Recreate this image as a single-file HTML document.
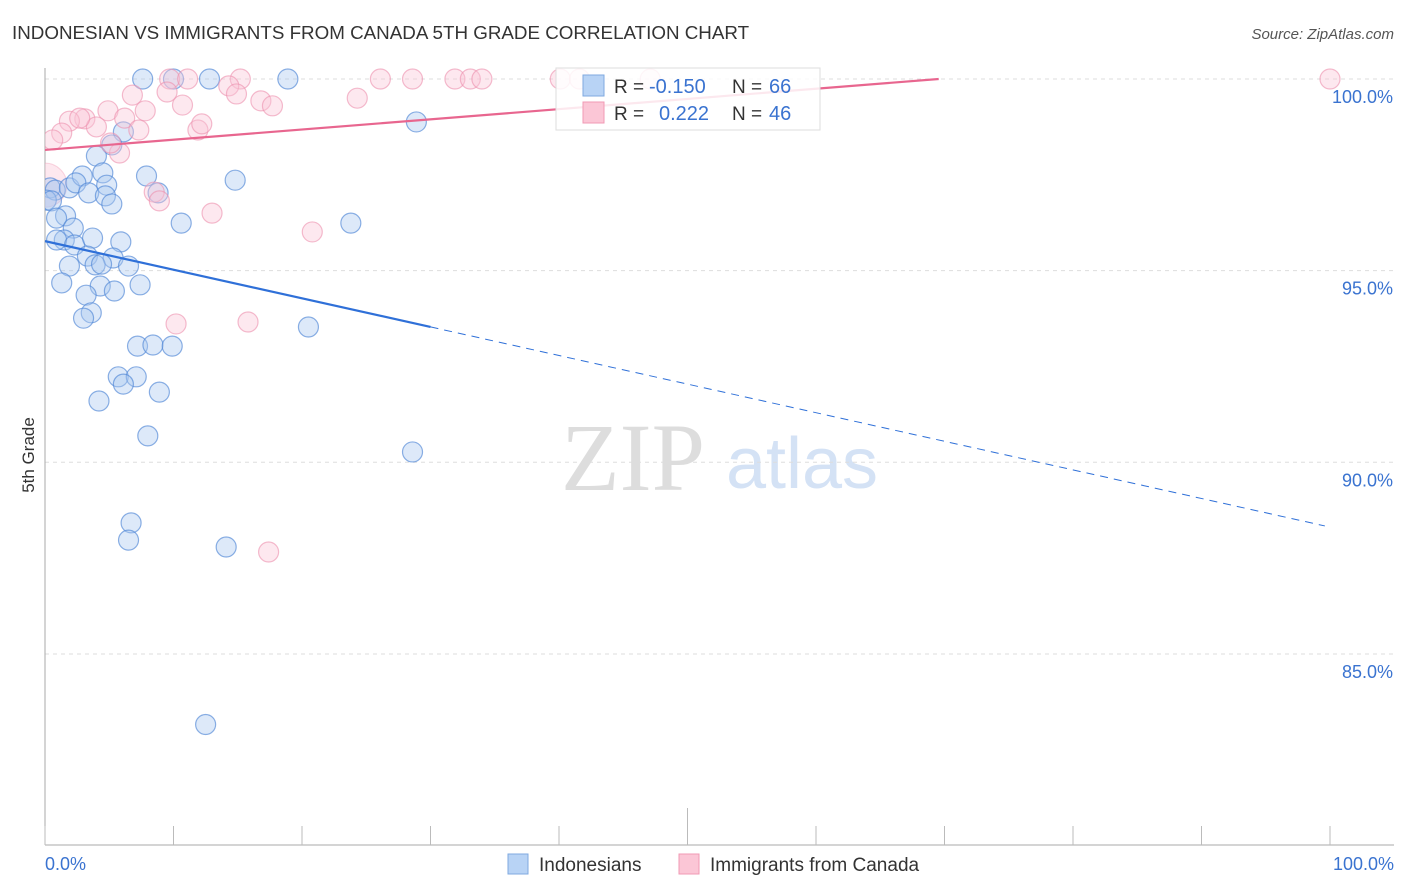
<!DOCTYPE html>
<html><head><meta charset="utf-8"><style>
body{margin:0;background:#fff;font-family:"Liberation Sans",sans-serif;}
svg{display:block}
</style></head><body>
<svg id="chart" width="1406" height="892" xmlns="http://www.w3.org/2000/svg">
<defs><clipPath id="plotclip"><rect x="45" y="40" width="1361" height="805"/></clipPath></defs>
<text x="12" y="39" font-size="18.8" fill="#333">INDONESIAN VS IMMIGRANTS FROM CANADA 5TH GRADE CORRELATION CHART</text>
<text x="1394" y="39" font-size="15" fill="#555" font-style="italic" text-anchor="end">Source: ZipAtlas.com</text>
<text x="34" y="455" font-size="17" fill="#333" text-anchor="middle" transform="rotate(-90 34 455)">5th Grade</text>
<g>
<text x="633" y="490" font-size="96" fill="#ddd" font-family="Liberation Serif,serif" text-anchor="middle">ZIP</text>
<text x="802" y="488" font-size="72" fill="#d4e2f5" text-anchor="middle">atlas</text>
</g>
<g id="grid"></g>
<g id="axes"></g>
<g id="marks" clip-path="url(#plotclip)"></g>
<g id="trends"></g>
<g>
<rect x="556" y="68" width="264" height="62" fill="#fff" fill-opacity="0.85" stroke="#ddd"/>
<rect x="583" y="75" width="21" height="21" fill="#b8d3f5" stroke="#7fa9e0"/>
<rect x="583" y="102" width="21" height="21" fill="#fbc6d6" stroke="#f09ab4"/>
<text x="614" y="93" font-size="19" fill="#333">R =</text>
<text x="649" y="93" font-size="20" fill="#3a73d0">-0.150</text>
<text x="732" y="93" font-size="19" fill="#333">N =</text>
<text x="769" y="93" font-size="20" fill="#3a73d0">66</text>
<text x="614" y="120" font-size="19" fill="#333">R =</text>
<text x="659" y="120" font-size="20" fill="#3a73d0">0.222</text>
<text x="732" y="120" font-size="19" fill="#333">N =</text>
<text x="769" y="120" font-size="20" fill="#3a73d0">46</text>
</g>
<g>
<rect x="508" y="854" width="20" height="20" fill="#b8d3f5" stroke="#7fa9e0"/>
<text x="539" y="871" font-size="19" fill="#333">Indonesians</text>
<rect x="679" y="854" width="20" height="20" fill="#fbc6d6" stroke="#f09ab4"/>
<text x="710" y="871" font-size="19" fill="#333">Immigrants from Canada</text>
</g>
</svg>
<script>
const blueX=[7.6,10.0,12.8,18.9,28.9,6.1,5.2,4.0,7.9,14.8,0.4,0.8,1.9,2.9,2.4,4.5,4.8,3.4,4.7,5.2,8.8,0.1,0.5,1.6,0.9,2.2,10.6,23.8,1.5,0.9,2.3,3.7,5.9,3.3,5.3,1.9,3.9,4.4,6.5,1.3,4.3,7.4,3.2,5.4,3.6,3.0,20.5,7.2,8.4,9.9,5.7,7.1,6.1,4.2,8.9,8.0,28.6,6.7,6.5,14.1,12.5];
const blueY=[100,100,100,100,98.88,98.62,98.28,97.99,97.47,97.36,97.16,97.10,97.16,97.47,97.29,97.55,97.23,97.03,96.95,96.74,97.03,96.84,96.82,96.43,96.37,96.11,96.24,96.24,95.80,95.80,95.67,95.85,95.75,95.38,95.33,95.12,95.15,95.17,95.12,94.68,94.60,94.63,94.36,94.47,93.90,93.76,93.53,93.03,93.06,93.03,92.23,92.23,92.04,91.60,91.83,90.69,90.27,88.42,87.97,87.79,83.16];
const pinkX=[9.7,11.1,15.2,14.3,14.9,9.5,6.8,10.7,16.8,17.7,24.3,26.1,28.6,31.9,33.1,34.0,40.1,41.6,47.1,100,4.9,3.1,1.9,1.3,0.6,4.0,2.7,7.8,6.2,7.3,11.9,12.2,5.8,5.1,8.5,8.9,13.0,20.8,10.2,15.8,17.4];
const pinkY=[100,100,100,99.82,99.61,99.66,99.58,99.32,99.43,99.30,99.50,100,100,100,100,100,100,100,100,100,99.17,98.96,98.90,98.59,98.41,98.75,98.98,99.17,98.98,98.67,98.67,98.83,98.07,98.33,97.05,96.82,96.50,96.01,93.61,93.66,87.66];
const yTicks=[100,95,90,85];
const yTickLabels=["100.0%","95.0%","90.0%","85.0%"];
const blueTrend=[95.77,-0.0746];
const pinkTrend=[98.15,0.0266];
const NS="http://www.w3.org/2000/svg";
const xs=v=>45+v*12.85;
const ys=v=>79+(100-v)*38.33;
function mk(tag,attrs,parent){const e=document.createElementNS(NS,tag);for(const k in attrs)e.setAttribute(k,attrs[k]);parent.appendChild(e);return e;}
const grid=document.getElementById('grid'),axes=document.getElementById('axes'),marks=document.getElementById('marks'),trends=document.getElementById('trends');
yTicks.forEach((t,i)=>{
 const l=mk('line',{x1:45,x2:1394,y1:ys(t),y2:ys(t),stroke:'#ddd','stroke-dasharray':'4 4'},grid);
 
 
 const tx=mk('text',{x:1393,y:ys(t)+24,'font-size':18,fill:'#3a73d0','text-anchor':'end'},axes);
 tx.textContent=yTickLabels[i];
 
 
});
let a=mk('line',{x1:45,x2:45,y1:68,y2:845,stroke:'#aaa'},axes);


a=mk('line',{x1:45,x2:1394,y1:845,y2:845,stroke:'#aaa'},axes);


for(let i=0;i<=10;i++){
 const t=mk('line',{x1:xs(i*10),x2:xs(i*10),y1:i==5?808:826,y2:845,stroke:'#bbb'},axes);
 
 
}
let xl=mk('text',{x:45,y:870,'font-size':18,fill:'#3a73d0'},axes);xl.textContent='0.0%';


xl=mk('text',{x:1394,y:870,'font-size':18,fill:'#3a73d0','text-anchor':'end'},axes);xl.textContent='100.0%';


const big=mk('circle',{cx:xs(0),cy:ys(97.23),r:22,fill:'#fbc6d6','fill-opacity':0.4,stroke:'#f09ab4','stroke-opacity':0.4},marks);


blueX.forEach((x,i)=>{
 const c=mk('circle',{cx:xs(x),cy:ys(blueY[i]),r:10,fill:'#a9c8f0','fill-opacity':0.4,stroke:'#4f86d6','stroke-opacity':0.65,'stroke-width':1.2},marks);
 
 
});
pinkX.forEach((x,i)=>{
 const c=mk('circle',{cx:xs(x),cy:ys(pinkY[i]),r:10,fill:'#fbc6d6','fill-opacity':0.4,stroke:'#ec8fae','stroke-opacity':0.6,'stroke-width':1.2},marks);
 
 
});
const bt=x=>blueTrend[0]+blueTrend[1]*x, pt=x=>pinkTrend[0]+pinkTrend[1]*x;
let tl=mk('line',{x1:xs(0),y1:ys(bt(0)),x2:xs(30),y2:ys(bt(30)),stroke:'#2f70d8','stroke-width':2.2},trends);


tl=mk('line',{x1:xs(30),y1:ys(bt(30)),x2:xs(99.6),y2:ys(bt(99.6)),stroke:'#2f70d8','stroke-width':1,'stroke-dasharray':'8 6'},trends);


const pend=(100-pinkTrend[0])/pinkTrend[1];
tl=mk('line',{x1:xs(0),y1:ys(pt(0)),x2:xs(pend),y2:ys(100),stroke:'#e8668f','stroke-width':2.2},trends);


</script>
</body></html>
